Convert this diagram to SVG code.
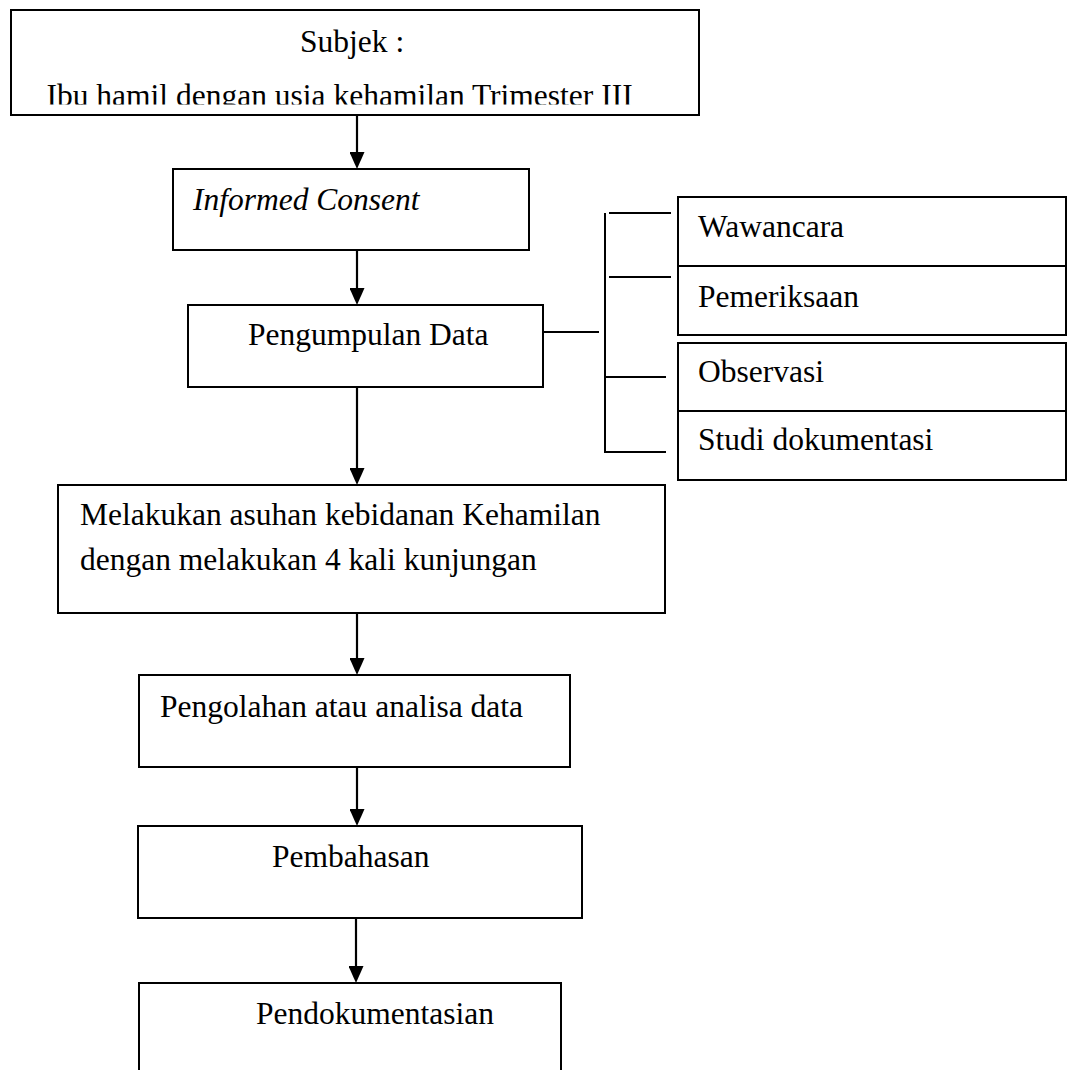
<svg xmlns="http://www.w3.org/2000/svg" width="1067" height="1070" viewBox="0 0 1067 1070">
<style>
.box{fill:#fff;stroke:#000;stroke-width:2}
.t{font-family:"Liberation Serif","Times New Roman",serif;font-size:31.5px;fill:#000}
.i{font-style:italic}
.ln{stroke:#000;stroke-width:2;fill:none}
.ar{stroke:#000;stroke-width:2.2;fill:none;marker-end:url(#ah)}
</style>
<defs>
<marker id="ah" markerUnits="userSpaceOnUse" markerWidth="17" markerHeight="15" viewBox="0 0 17 15" refX="7" refY="7.5" orient="auto">
<path d="M0,0 L17,7.5 L0,15 Z" fill="#000"/>
</marker>
<clipPath id="clipTop"><rect x="12" y="11" width="686" height="93.5"/></clipPath>
</defs>
<rect width="1067" height="1070" fill="#fff"/>
<g id="connectors">
<line class="ar" x1="357" y1="115" x2="357" y2="159"/>
<line class="ar" x1="357" y1="242" x2="357" y2="295"/>
<line class="ar" x1="357" y1="387" x2="357" y2="475"/>
<line class="ar" x1="357" y1="613" x2="357" y2="665"/>
<line class="ar" x1="357" y1="767" x2="357" y2="816"/>
<line class="ar" x1="356" y1="918" x2="356" y2="973"/>
<line class="ln" x1="543" y1="332" x2="599" y2="332"/>
<line class="ln" x1="605" y1="213" x2="605" y2="453"/>
<line class="ln" x1="609" y1="213" x2="671" y2="213"/>
<line class="ln" x1="609" y1="277" x2="671" y2="277"/>
<line class="ln" x1="604" y1="377" x2="666" y2="377"/>
<line class="ln" x1="604" y1="452" x2="666" y2="452"/>
</g>
<g id="subjek">
<rect class="box" x="11" y="10" width="688" height="105"/>
<text class="t" x="300" y="52">Subjek :</text>
<text class="t" x="46.5" y="106" clip-path="url(#clipTop)">Ibu hamil dengan usia kehamilan Trimester III</text>
</g>
<g id="informed">
<rect class="box" x="173" y="169" width="356" height="81"/>
<text class="t i" x="193" y="210">Informed Consent</text>
</g>
<g id="pengumpulan">
<rect class="box" x="188" y="305" width="355" height="82"/>
<text class="t" x="248" y="345">Pengumpulan Data</text>
</g>
<g id="wawancara">
<rect class="box" x="678" y="197" width="388" height="69"/>
<text class="t" x="698" y="237">Wawancara</text>
</g>
<g id="pemeriksaan">
<rect class="box" x="678" y="266" width="388" height="69"/>
<text class="t" x="698" y="307">Pemeriksaan</text>
</g>
<g id="observasi">
<rect class="box" x="678" y="343" width="388" height="68"/>
<text class="t" x="698" y="382">Observasi</text>
</g>
<g id="studi">
<rect class="box" x="678" y="411" width="388" height="69"/>
<text class="t" x="698" y="450">Studi dokumentasi</text>
</g>
<g id="asuhan">
<rect class="box" x="58" y="485" width="607" height="128"/>
<text class="t" x="80" y="525">Melakukan asuhan kebidanan Kehamilan</text>
<text class="t" x="80" y="570">dengan melakukan 4 kali kunjungan</text>
</g>
<g id="pengolahan">
<rect class="box" x="139" y="675" width="431" height="92"/>
<text class="t" x="160" y="717">Pengolahan atau analisa data</text>
</g>
<g id="pembahasan">
<rect class="box" x="138" y="826" width="444" height="92"/>
<text class="t" x="272" y="867">Pembahasan</text>
</g>
<g id="pendokumentasian">
<rect class="box" x="139" y="983" width="422" height="100"/>
<text class="t" x="256" y="1024">Pendokumentasian</text>
</g>
</svg>
